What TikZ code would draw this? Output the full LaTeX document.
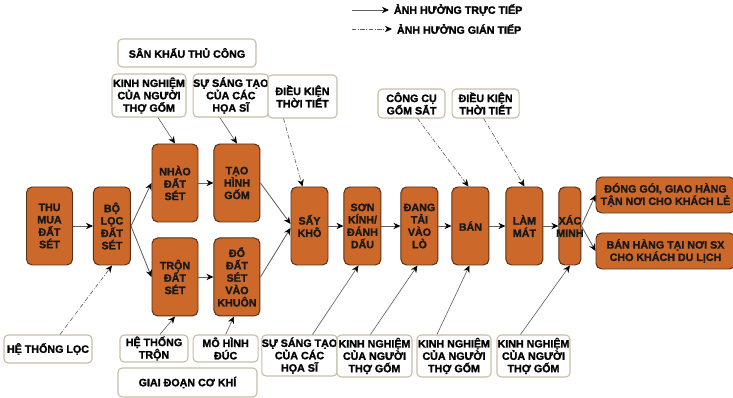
\documentclass[tikz,border=0pt]{standalone}
\usepackage{fontspec}
\setmainfont{Liberation Sans}[BoldFont={Liberation Sans Bold}, BoldFeatures={FakeBold=1.6}]
\definecolor{clayOrange}{RGB}{204, 104, 42}
\definecolor{clayBrown}{RGB}{88, 48, 22}
\definecolor{boxBeige}{RGB}{200, 190, 168}
\definecolor{lineGray}{RGB}{95, 95, 95}
\usetikzlibrary{arrows.meta, positioning, calc}
\newdimen\pxu
\pxu=0.025cm

\begin{document}
\begin{tikzpicture}[
    x=0.025cm, y=-0.025cm,
    node distance=15\pxu,
    every node/.style={font=\bfseries\fontsize{7.6}{8.8}\selectfont, align=center},
    stage/.style={
      rectangle, draw=clayBrown, fill=clayOrange, text=black!90,
      rounded corners=4pt, minimum height=78\pxu, minimum width=46\pxu,
      inner sep=0pt, line width=0.7pt
    },
    narrow/.style={stage, minimum width=37\pxu},
    outlet/.style={stage, minimum height=36\pxu, minimum width=139\pxu},
    factor/.style={
      rectangle, draw=boxBeige, fill=white, rounded corners=3pt,
      inner sep=0pt, line width=0.8pt
    },
    flow/.style={-{Stealth[length=5pt, width=4.5pt, black]}, lineGray, line width=0.6pt},
    direct/.style={-{Stealth[length=5pt, width=4.5pt, black]}, lineGray, line width=0.45pt},
    indirect/.style={direct, dash pattern=on 3pt off 1.2pt on 0.6pt off 1.2pt},
  ]
    \useasboundingbox (0,0) rectangle (733,398);

    % Legend
    \coordinate (lgA) at (352,10);
    \coordinate (lgB) at (352,29);
    \node[anchor=west] (lgdirect) at (389,10) {ẢNH HƯỞNG TRỰC TIẾP};
    \node[anchor=west] (lgindirect) at (392,29) {ẢNH HƯỞNG GIÁN TIẾP};

    % Main chain
    \node[stage] (thu) at (49.5,226) {THU\\MUA\\ĐẤT\\SÉT};
    \node[narrow, right=20\pxu of thu] (boloc) {BỘ\\LỌC\\ĐẤT\\SÉT};
    \node[stage] (nhao) at (175,183) {NHÀO\\ĐẤT\\SÉT};
    \node[stage, right=of nhao] (taohinh) {TẠO\\HÌNH\\GỐM};
    \node[stage, below=of nhao] (tron) {TRỘN\\ĐẤT\\SÉT};
    \node[stage, right=of tron] (doKhuon) {ĐỔ\\ĐẤT\\SÉT\\VÀO\\KHUÔN};
    \node[narrow] (say) at (309.5,226) {SẤY\\KHÔ};
    \node[narrow, right=of say] (son) {SƠN\\KÍNH/\\ĐÁNH\\DẤU};
    \node[narrow, right=19\pxu of son] (dang) {ĐANG\\TẢI\\VÀO\\LÒ};
    \node[narrow, right=13\pxu of dang] (ban) {BÁN};
    \node[narrow, right=16\pxu of ban] (lammat) {LÀM\\MÁT};
    \node[stage, minimum width=22\pxu, inner xsep=-2pt, right=of lammat] (xac) {XÁC\\MINH};
    \node[outlet] (donggoi) at (665.5,195) {ĐÓNG GÓI, GIAO HÀNG\\TẬN NƠI CHO KHÁCH LẺ};
    \node[outlet] (banhang) at (665.5,251) {BÁN HÀNG TẠI NƠI SX\\CHO KHÁCH DU LỊCH};

    % Upper factors
    \node[factor, minimum width=138\pxu, minimum height=28\pxu] (sankhau) at (187,53) {SÂN KHẤU THỦ CÔNG};
    \node[factor, minimum width=74\pxu, minimum height=43\pxu] (knA) at (149,95.5) {KINH NGHIỆM\\CỦA NGƯỜI\\THỢ GỐM};
    \node[factor, minimum width=75\pxu, minimum height=43\pxu, right=6\pxu of knA] (sstA) {SỰ SÁNG TẠO\\CỦA CÁC\\HỌA SĨ};
    \node[factor, minimum width=69\pxu, minimum height=43\pxu] (dkA) at (302.5,96.5) {ĐIỀU KIỆN\\THỜI TIẾT};
    \node[factor, minimum width=67\pxu, minimum height=29\pxu] (congcu) at (411.5,103.5) {CÔNG CỤ\\GỐM SẮT};
    \node[factor, minimum width=67\pxu, minimum height=29\pxu, right=6\pxu of congcu] (dkB) {ĐIỀU KIỆN\\THỜI TIẾT};

    % Lower factors
    \node[factor, minimum width=88\pxu, minimum height=28\pxu] (htloc) at (48,349) {HỆ THỐNG LỌC};
    \node[factor, minimum width=68\pxu, minimum height=27\pxu] (httron) at (154,348.5) {HỆ THỐNG\\TRỘN};
    \node[factor, minimum width=65\pxu, minimum height=27\pxu, right=4\pxu of httron] (mohinh) {MÔ HÌNH\\ĐÚC};
    \node[factor, minimum width=139\pxu, minimum height=29\pxu] (giaidoan) at (187.5,382.5) {GIAI ĐOẠN CƠ KHÍ};
    \node[factor, minimum width=75\pxu, minimum height=41\pxu] (sstB) at (299.5,355.5) {SỰ SÁNG TẠO\\CỦA CÁC\\HỌA SĨ};
    \node[factor, minimum width=75\pxu, minimum height=42\pxu] (knB) at (374.5,356) {KINH NGHIỆM\\CỦA NGƯỜI\\THỢ GỐM};
    \node[factor, minimum width=74\pxu, minimum height=42\pxu] (knC) at (454,356) {KINH NGHIỆM\\CỦA NGƯỜI\\THỢ GỐM};
    \node[factor, minimum width=73\pxu, minimum height=42\pxu] (knD) at (533.5,356) {KINH NGHIỆM\\CỦA NGƯỜI\\THỢ GỐM};

    % Legend arrows
    \draw[direct] (lgA) -- (lgdirect.west);
    \draw[indirect] (lgB) -- (lgindirect.west);

    % Flow arrows
    \draw[flow] (thu) -- (boloc);
    \draw[flow] (boloc.east) -- (nhao.west);
    \draw[flow] (boloc.east) -- (tron.west);
    \draw[flow] (nhao) -- (taohinh);
    \draw[flow] (tron) -- (doKhuon);
    \draw[flow] (taohinh.east) -- ($(say.west)+(0,-2)$);
    \draw[flow] (doKhuon.east) -- ($(say.west)+(0,2)$);
    \draw[flow] (say) -- (son);
    \draw[flow] (son) -- (dang);
    \draw[flow] (dang) -- (ban);
    \draw[flow] (ban) -- (lammat);
    \draw[flow] (lammat) -- (xac);
    \draw[flow] (xac.east) -- (donggoi.west);
    \draw[flow] (xac.east) -- (banhang.west);

    % Factor arrows
    \draw[direct] ($(knA.south)+(9,0)$) -- (nhao.north);
    \draw[direct] ($(sstA.south)+(-11,0)$) -- (taohinh.north);
    \draw[indirect] ($(dkA.south)+(-19,0)$) -- ($(say.north)+(-7,0)$);
    \draw[indirect] ($(congcu.south)+(6,0)$) -- ($(ban.north)+(-2,0)$);
    \draw[indirect] ($(dkB.south)+(-2,0)$) -- (lammat.north);
    \draw[indirect] ($(htloc.north)+(12,0)$) -- (boloc.south);
    \draw[direct] ($(httron.north)+(6,0)$) -- (tron.south);
    \draw[direct] (mohinh.north) -- ($(doKhuon.south)+(-3,0)$);
    \draw[direct] ($(sstB.north)+(13,0)$) -- ($(son.south)+(-4,0)$);
    \draw[direct] ($(knB.north)+(-4,0)$) -- ($(dang.south)+(-2,0)$);
    \draw[direct] ($(knC.north)+(-17,0)$) -- ($(ban.south)+(-1,0)$);
    \draw[direct] ($(knD.north)+(-13,0)$) -- (xac.south);
  \end{tikzpicture}
\end{document}
